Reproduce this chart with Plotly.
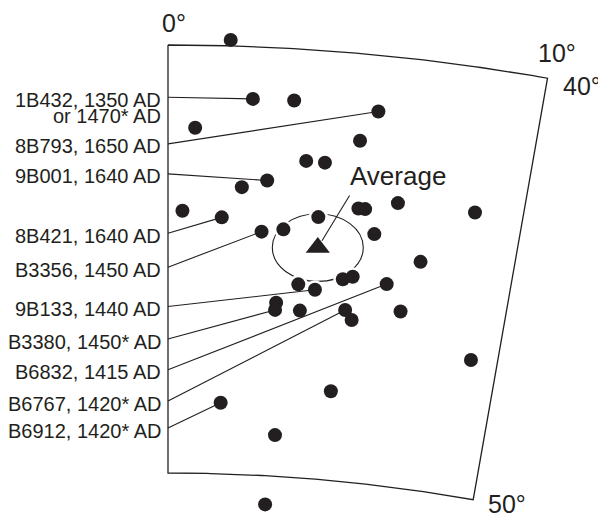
import numpy as np
import plotly.graph_objects as go

# ---- data: site-mean directions (declination, inclination), degrees ----
site_dec = [1.64, 2.28, 3.39, 5.67, 0.74, 5.25, 3.82, 4.34, 2.77, 2.07,
            5.38, 5.57, 6.47, 8.65, 5.90, 0.41, 1.53, 2.68, 3.30, 4.27,
            7.31, 3.83, 4.33, 5.12, 5.40, 6.41, 3.21, 3.19, 3.93, 5.27,
            5.49, 6.91, 9.20, 5.06, 1.65, 3.41, 3.22]
site_inc = [39.86, 41.22, 41.21, 41.31, 41.93, 42.03, 42.60, 42.61, 43.11, 43.29,
            43.61, 43.61, 43.39, 43.37, 44.17, 43.87, 44.01, 44.31, 44.23, 43.89,
            44.69, 45.49, 45.59, 45.29, 45.21, 45.30, 45.95, 46.12, 46.10, 46.00,
            46.22, 45.90, 46.79, 47.92, 48.34, 49.04, 50.67]

# mean direction and its confidence half-widths (deg)
avg_dec = 4.32
avg_inc = 44.60
conf_dec = 1.31
conf_inc = 0.79

# labelled sites
label_text = ["1B432, 1350 AD", "8B793, 1650 AD", "9B001, 1640 AD",
              "8B421, 1640 AD", "B3356, 1450 AD", "9B133, 1440 AD",
              "B3380, 1450* AD", "B6832, 1415 AD", "B6767, 1420* AD",
              "B6912, 1420* AD"]
label_extra = ["or 1470* AD", "", "", "", "", "", "", "", "", ""]
label_site = [1, 3, 8, 16, 17, 22, 27, 25, 29, 34]
label_inc = [41.22, 42.31, 43.01, 44.40, 45.19, 46.11, 46.87, 47.59, 48.32, 48.95]

# grid limits
dec_min, dec_max = 0, 10
inc_min, inc_max = 40, 50

# ---- projection (polar: declination = angle, inclination = radius) ----
R_OUT, R_IN = 1.0, 0.80416


def proj(dec, inc):
    dec = np.asarray(dec, dtype=float)
    inc = np.asarray(inc, dtype=float)
    r = R_OUT - (R_OUT - R_IN) * (inc - inc_min) / (inc_max - inc_min)
    t = np.radians(dec)
    return r * np.sin(t), r * np.cos(t)


FONT = "Liberation Sans, Arial, Helvetica, sans-serif"
INK = "#231f20"

fig = go.Figure()

# frame (sector)
arc = np.linspace(dec_min, dec_max, 80)
fdec = np.concatenate([arc, [dec_max, dec_max], arc[::-1], [dec_min]])
finc = np.concatenate([np.full(arc.size, inc_min), [inc_min, inc_max],
                       np.full(arc.size, inc_max), [inc_min]])
fx, fy = proj(fdec, finc)

sx, sy = proj(site_dec, site_inc)

# white halo under the dots (knocks out the confidence ellipse)
fig.add_trace(go.Scatter(x=sx, y=sy, mode="markers",
                         marker=dict(size=19, color="white"),
                         hoverinfo="skip", showlegend=False))

fig.add_trace(go.Scatter(x=fx, y=fy, mode="lines",
                         line=dict(color=INK, width=1.3),
                         hoverinfo="skip", showlegend=False))

# leader lines
lx, ly = [], []
for i, site in enumerate(label_site):
    x0, y0 = proj(dec_min, label_inc[i])
    lx += [float(x0), float(sx[site]), None]
    ly += [float(y0), float(sy[site]), None]
fig.add_trace(go.Scatter(x=lx, y=ly, mode="lines",
                         line=dict(color=INK, width=1.1),
                         hoverinfo="skip", showlegend=False))

# site dots
fig.add_trace(go.Scatter(x=sx, y=sy, mode="markers",
                         marker=dict(size=14, color=INK),
                         name="sites", showlegend=False))

# average
ax_, ay_ = proj(avg_dec, avg_inc)
fig.add_trace(go.Scatter(x=[float(ax_)], y=[float(ay_)], mode="markers",
                         marker=dict(symbol="triangle-up", size=21, color=INK),
                         name="Average", showlegend=False))

# confidence ellipse
r_avg = float(np.hypot(ax_, ay_))
hx = r_avg * np.sin(np.radians(conf_dec))
hy = (R_OUT - R_IN) / (inc_max - inc_min) * conf_inc
fig.add_shape(type="circle", xref="x", yref="y", layer="below",
              x0=float(ax_) - hx, x1=float(ax_) + hx,
              y0=float(ay_) - hy, y1=float(ay_) + hy,
              line=dict(color=INK, width=1.1))

annotations = []
# "Average" pointer and text
annotations.append(dict(x=float(ax_), y=float(ay_), xref="x", yref="y",
                        text=" ", font=dict(size=1), showarrow=True,
                        arrowhead=0, arrowwidth=1.1, arrowcolor=INK,
                        ax=33, ay=-54, standoff=8))
annotations.append(dict(x=float(ax_), y=float(ay_), xref="x", yref="y",
                        text="Average", showarrow=False,
                        font=dict(family=FONT, size=26, color=INK),
                        xshift=80, yshift=72))

# site labels
for i, txt in enumerate(label_text):
    x0, y0 = proj(dec_min, label_inc[i])
    annotations.append(dict(x=float(x0), y=float(y0), xref="x", yref="y",
                            text=txt, showarrow=False, xanchor="right",
                            xshift=-5, yshift=-2.5,
                            font=dict(family=FONT, size=20, color=INK)))
    if label_extra[i]:
        annotations.append(dict(x=float(x0), y=float(y0), xref="x", yref="y",
                                text=label_extra[i], showarrow=False,
                                xanchor="right", xshift=-5, yshift=-18.5,
                                font=dict(family=FONT, size=20, color=INK)))

# grid limit labels
corner_labels = [("0°", dec_min, inc_min, 6, 22),
                 ("10°", dec_max, inc_min, 9, 25),
                 ("40°", dec_max, inc_min, 34, -8),
                 ("50°", dec_max, inc_max, 34, -4)]
for txt, d, inc, dx, dy in corner_labels:
    cx, cy = proj(d, inc)
    annotations.append(dict(x=float(cx), y=float(cy), xref="x", yref="y",
                            text=txt, showarrow=False, xshift=dx, yshift=dy,
                            font=dict(family=FONT, size=25, color=INK)))

# axis ranges: 1 unit of radius = S pixels, sector centre placed off-canvas
# (the page adds an 8 px body margin, so the figure is 8 px smaller and shifted)
S = 2185.5
CX, CY = 160.0, 2222.5
W, H = 598, 509

fig.update_layout(
    width=W, height=H,
    margin=dict(l=0, r=0, t=0, b=0),
    paper_bgcolor="white", plot_bgcolor="white",
    xaxis=dict(range=[-CX / S, (W - CX) / S], visible=False, fixedrange=True),
    yaxis=dict(range=[(CY - H) / S, CY / S], visible=False, fixedrange=True),
    annotations=annotations,
    showlegend=False,
)

fig.write_html("out.html")
